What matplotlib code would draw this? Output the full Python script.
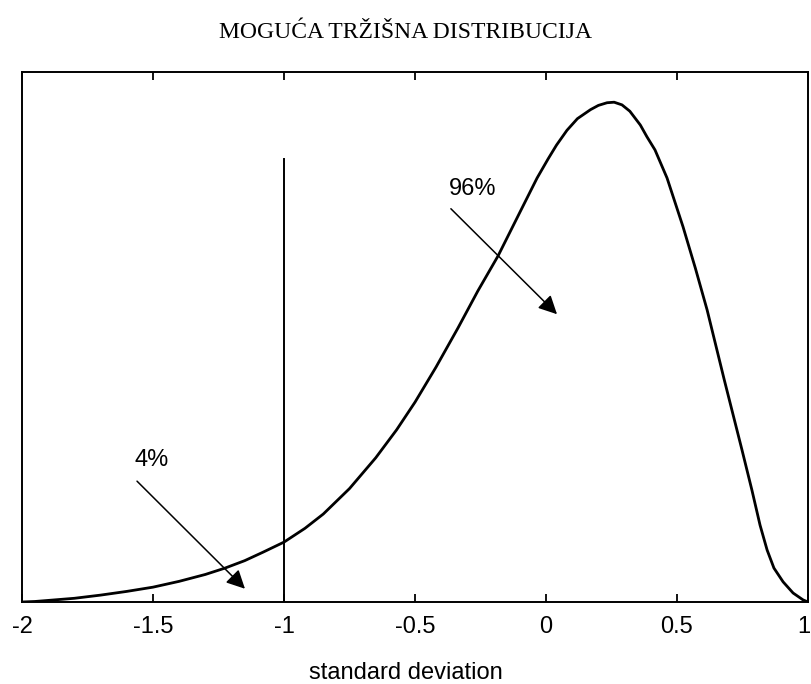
import matplotlib.pyplot as plt
from matplotlib.transforms import ScaledTranslation

# curve (x in standard deviations, y as fraction of axis height)
sd = [-2.0, -1.95, -1.9, -1.8, -1.7, -1.6, -1.5, -1.4, -1.3, -1.225, -1.15, -1.08,
      -1.0, -0.92, -0.85, -0.75, -0.65, -0.57, -0.5, -0.42, -0.336, -0.26, -0.183,
      -0.1, -0.034, 0.008, 0.04, 0.08, 0.12, 0.17, 0.2, 0.233, 0.26, 0.29, 0.32, 0.36,
      0.385, 0.416, 0.462, 0.523, 0.57, 0.615, 0.68, 0.748, 0.786, 0.817, 0.844, 0.87,
      0.905, 0.943, 0.981, 1.0]
density = [0.0, 0.001, 0.003, 0.007, 0.013, 0.02, 0.028, 0.039, 0.052, 0.064, 0.078, 0.094,
           0.113, 0.139, 0.166, 0.214, 0.272, 0.325, 0.377, 0.443, 0.517, 0.587, 0.653,
           0.735, 0.8, 0.836, 0.862, 0.89, 0.912, 0.929, 0.937, 0.942, 0.943, 0.938, 0.926,
           0.9, 0.878, 0.853, 0.8, 0.708, 0.63, 0.551, 0.42, 0.287, 0.211, 0.145, 0.098,
           0.064, 0.038, 0.017, 0.004, 0.0]

cutoff = -1.0
cutoff_top = 0.836
ticks = [-2, -1.5, -1, -0.5, 0, 0.5, 1]
tick_labels = ['-2', '-1.5', '-1', '-0.5', '0', '0.5', '1']

labels = ['4%', '96%']
label_xy = [(-1.569, 0.268), (-0.37, 0.78)]
arrow_from = [(-1.561, 0.228), (-0.363, 0.742)]
arrow_to = [(-1.149, 0.025), (0.042, 0.543)]

plt.rcParams['font.family'] = ['Liberation Sans', 'DejaVu Sans']

fig = plt.figure(figsize=(8.12, 6.84), dpi=100)
ax = fig.add_axes([22/812, 82/684, 786/812, 530/684])

ax.plot(sd, density, color='black', lw=2.0, solid_joinstyle='round')
ax.plot([cutoff, cutoff], [0, cutoff_top], color='black', lw=1.4)

for lab, pos, a, b in zip(labels, label_xy, arrow_from, arrow_to):
    ax.text(pos[0], pos[1], lab, fontsize=17, ha='left', va='center')
    ax.annotate('', xy=b, xytext=a,
                arrowprops=dict(arrowstyle='-|>', color='black', lw=1.1,
                                mutation_scale=28, shrinkA=0, shrinkB=0))

ax.set_xlim(-2, 1)
ax.set_ylim(0, 1)
ax.set_xticks(ticks)
ax.set_xticklabels(tick_labels, fontsize=17)
ax.set_yticks([])
ax.tick_params(axis='x', direction='in', length=6, width=1.3, top=True, pad=10)
for s in ax.spines.values():
    s.set_linewidth(1.4)

# last label sits on the figure edge, nudge it in a little
last = ax.get_xticklabels()[-1]
last.set_transform(last.get_transform() + ScaledTranslation(-4/100, 0, fig.dpi_scale_trans))

fig.text(0.5, 1 - 673/684, 'standard deviation', fontsize=17, ha='center', va='center')
fig.text(0.5, 1 - 32/684, 'MOGUĆA TRŽIŠNA DISTRIBUCIJA', fontsize=17,
         ha='center', va='center', family=['Liberation Serif', 'DejaVu Serif'])

fig.savefig('out.png', dpi=100)
